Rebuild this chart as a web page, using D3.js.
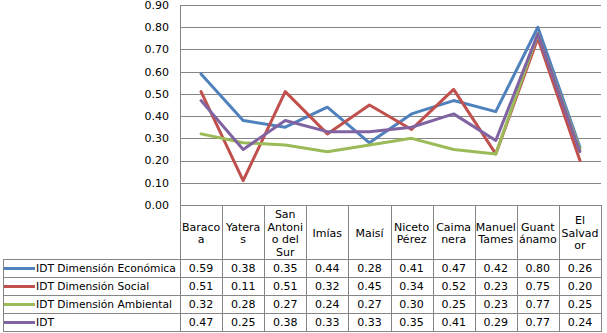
<!DOCTYPE html>
<html><head><meta charset="utf-8">
<script src="https://cdn.jsdelivr.net/npm/d3@7"></script>
<style>body{margin:0;background:#fff}svg{display:block}text{font-family:"DejaVu Sans",Verdana,sans-serif;fill:#000}</style>
</head><body><svg id="c" width="607" height="333"></svg>
<script>
const categories = ["Baracoa","Yateras","San Antonio del Sur","Imías","Maisí","Niceto Pérez","Caimanera","Manuel Tames","Guantánamo","El Salvador"];
const categoryLabels = [["Baraco","a"],["Yatera","s"],["San","Antoni","o del","Sur"],["Imías"],["Maisí"],["Niceto","Pérez"],["Caima","nera"],["Manuel","Tames"],["Guant","ánamo"],["El","Salvad","or"]];
const seriesNames = ["IDT Dimensión Económica","IDT Dimensión Social","IDT Dimensión Ambiental","IDT"];
const economica = [0.59,0.38,0.35,0.44,0.28,0.41,0.47,0.42,0.80,0.26];
const social    = [0.51,0.11,0.51,0.32,0.45,0.34,0.52,0.23,0.75,0.20];
const ambiental = [0.32,0.28,0.27,0.24,0.27,0.30,0.25,0.23,0.77,0.25];
const idt       = [0.47,0.25,0.38,0.33,0.33,0.35,0.41,0.29,0.77,0.24];
const yTicks = [0,0.1,0.2,0.3,0.4,0.5,0.6,0.7,0.8,0.9];
const colors = ["#4F81BD","#C0504D","#9BBB59","#8064A2"];
const seriesValues = [economica, social, ambiental, idt];

(function(){
const svg = d3.select("#c");
const pLeft = 180, pRight = 601, pTop = 5, pBase = 205;
const tableLeft = 3, headerBottom = 259, rowH = 18;
const grid = "#868686";
const x = d3.scaleBand().domain(categories).range([pLeft, pRight]);
const y = d3.scaleLinear().domain([0, 0.9]).range([pBase, pTop]);

svg.append("g").selectAll("line").data(yTicks).join("line")
  .attr("x1", pLeft).attr("x2", pRight)
  .attr("y1", d => Math.round(y(d)) + 0.5).attr("y2", d => Math.round(y(d)) + 0.5)
  .attr("stroke", grid).attr("stroke-width", 1);
svg.append("g").selectAll("text").data(yTicks).join("text")
  .attr("x", 169).attr("y", d => y(d)).attr("dy", "0.35em")
  .attr("text-anchor", "end").attr("font-size", 11)
  .text(d => d3.format(".2f")(d));

const nRows = seriesNames.length;
const tableBottom = headerBottom + nRows * rowH;
const tg = svg.append("g").attr("stroke", grid).attr("stroke-width", 1);
tg.append("line").attr("x1", pLeft + 0.5).attr("x2", pLeft + 0.5).attr("y1", pTop).attr("y2", tableBottom);
categories.forEach(c => {
  const xr = Math.round(x(c) + x.bandwidth()) + 0.5;
  tg.append("line").attr("x1", xr).attr("x2", xr).attr("y1", pBase).attr("y2", tableBottom);
});
tg.append("line").attr("x1", tableLeft + 0.5).attr("x2", tableLeft + 0.5).attr("y1", headerBottom).attr("y2", tableBottom);
d3.range(nRows + 1).forEach(i => {
  const yy = headerBottom + i * rowH + 0.5;
  tg.append("line").attr("x1", tableLeft).attr("x2", pRight + 1).attr("y1", yy).attr("y2", yy);
});

const hg = svg.append("g");
categories.forEach((c, i) => {
  const lines = categoryLabels[i];
  const lh = 12.5;
  const cy = (pBase + headerBottom) / 2 + 1;
  const y0 = cy - (lines.length - 1) * lh / 2;
  const t = hg.append("text").attr("text-anchor", "middle").attr("font-size", 11);
  lines.forEach((l, j) => {
    t.append("tspan").attr("x", x(c) + x.bandwidth() / 2).attr("y", y0 + j * lh).attr("dy", "0.35em").text(l);
  });
});

seriesNames.forEach((s, i) => {
  const cy = headerBottom + i * rowH + rowH / 2 + 0.5;
  svg.append("line").attr("x1", tableLeft + 1).attr("x2", 35).attr("y1", cy).attr("y2", cy)
    .attr("stroke", colors[i]).attr("stroke-width", 3);
  svg.append("text").attr("x", 36).attr("y", cy).attr("dy", "0.35em").attr("font-size", 10.7).text(s);
  categories.forEach((c, j) => {
    svg.append("text").attr("x", x(c) + x.bandwidth() / 2).attr("y", cy).attr("dy", "0.35em")
      .attr("text-anchor", "middle").attr("font-size", 11).text(d3.format(".2f")(seriesValues[i][j]));
  });
});

const line = d3.line().x((d, j) => x(categories[j]) + x.bandwidth() / 2).y(d => y(d));
seriesValues.forEach((vals, i) => {
  svg.append("path").attr("d", line(vals)).attr("fill", "none")
    .attr("stroke", colors[i]).attr("stroke-width", 3)
    .attr("stroke-linejoin", "round").attr("stroke-linecap", "round");
});
})();
</script></body></html>
